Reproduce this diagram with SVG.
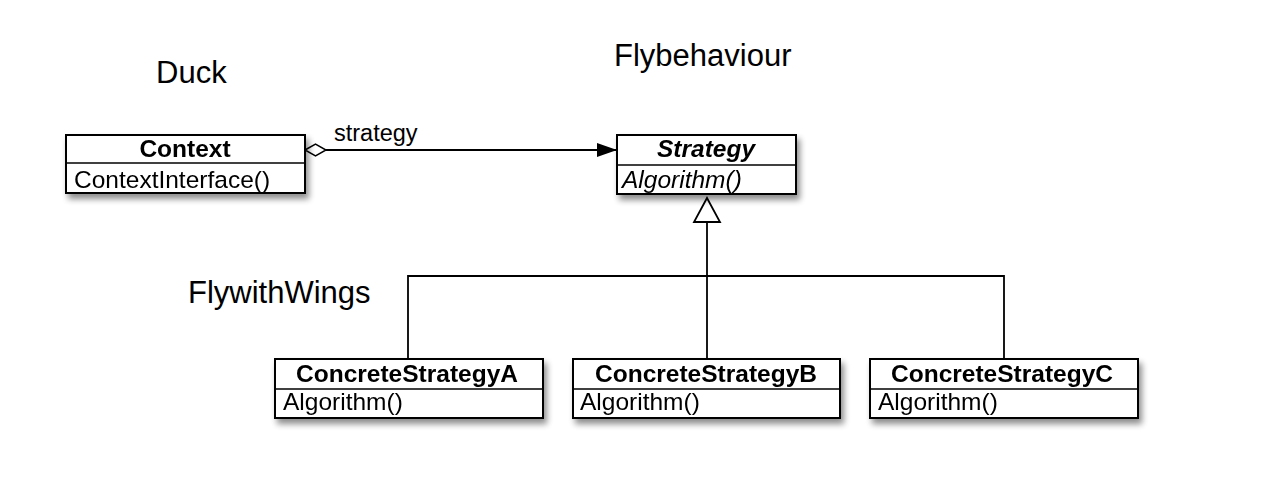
<svg xmlns="http://www.w3.org/2000/svg" width="1286" height="499" viewBox="0 0 1286 499">
<style>
.box{fill:#fff;stroke:#000;stroke-width:2}
.div{stroke:#000;stroke-width:1.5}
.t{font-family:"Liberation Sans",Arial,sans-serif;fill:#000}
.name{font-size:24.5px;font-weight:bold;text-anchor:middle}
.op{font-size:24.5px}
.lbl{font-size:31px}
.ln{fill:none;stroke:#000;stroke-width:1.8}
</style>
<defs>
<filter id="sh" x="-10%" y="-20%" width="125%" height="160%">
<feGaussianBlur in="SourceAlpha" stdDeviation="3"/>
<feOffset dx="3" dy="5" result="b"/>
<feComponentTransfer><feFuncA type="linear" slope="0.45"/></feComponentTransfer>
<feMerge><feMergeNode/><feMergeNode in="SourceGraphic"/></feMerge>
</filter>
<marker id="arr" markerWidth="20" markerHeight="14" refX="20" refY="7" orient="auto" markerUnits="userSpaceOnUse">
<path d="M0,0 L20,7 L0,14 Z" fill="#000"/>
</marker>
</defs>
<rect width="1286" height="499" fill="#fff"/>
<text class="t lbl" x="156" y="83">Duck</text>
<text class="t lbl" x="614" y="66">Flybehaviour</text>
<text class="t lbl" x="188" y="303">FlywithWings</text>
<g id="connectors">
<path class="ln" d="M326,150 L617,150" marker-end="url(#arr)"/>
<path d="M305,150 L315.5,144 L326,150 L315.5,156 Z" fill="#fff" stroke="#000" stroke-width="1.5"/>
<text class="t" x="334" y="141" font-size="23.5">strategy</text>
<path d="M707,198 L720,222 L694,222 Z" fill="#fff" stroke="#000" stroke-width="1.8"/>
<path class="ln" d="M707,222 L707,359"/>
<path class="ln" d="M408,359 L408,276 L1004,276 L1004,359"/>
</g>
<g id="context" filter="url(#sh)">
<rect class="box" x="66" y="135" width="239" height="58"/>
<line class="div" x1="66" y1="163" x2="305" y2="163"/>
<text class="t name" x="185" y="157">Context</text>
<text class="t op" x="74" y="188">ContextInterface()</text>
</g>
<g id="strategy" filter="url(#sh)">
<rect class="box" x="617" y="135" width="179" height="59"/>
<line class="div" x1="617" y1="165" x2="796" y2="165"/>
<text class="t name" x="706" y="157" font-style="italic">Strategy</text>
<text class="t op" x="622" y="188" font-style="italic">Algorithm()</text>
</g>
<g id="concreteA" filter="url(#sh)">
<rect class="box" x="275" y="359" width="268" height="59"/>
<line class="div" x1="275" y1="389" x2="543" y2="389"/>
<text class="t name" x="407" y="382">ConcreteStrategyA</text>
<text class="t op" x="283" y="410">Algorithm()</text>
</g>
<g id="concreteB" filter="url(#sh)">
<rect class="box" x="573" y="359" width="267" height="59"/>
<line class="div" x1="573" y1="389" x2="840" y2="389"/>
<text class="t name" x="706" y="382">ConcreteStrategyB</text>
<text class="t op" x="580" y="410">Algorithm()</text>
</g>
<g id="concreteC" filter="url(#sh)">
<rect class="box" x="870" y="359" width="268" height="59"/>
<line class="div" x1="870" y1="389" x2="1138" y2="389"/>
<text class="t name" x="1002" y="382">ConcreteStrategyC</text>
<text class="t op" x="878" y="410">Algorithm()</text>
</g>
</svg>
